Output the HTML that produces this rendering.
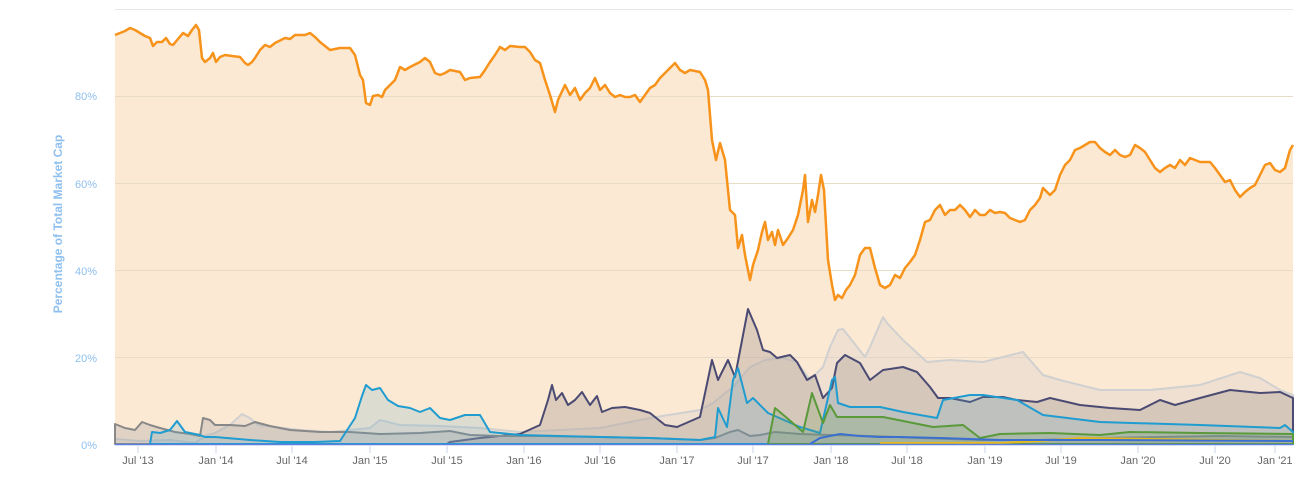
<!DOCTYPE html>
<html><head><meta charset="utf-8"><style>
body{margin:0;background:#fff;}
svg{display:block;font-family:"Liberation Sans",sans-serif;}
</style></head><body>
<svg width="1297" height="479" viewBox="0 0 1297 479">
<g stroke="#e6e6e6" stroke-width="1">
<line x1="115" y1="9.5" x2="1293" y2="9.5"/>
</g>
<!-- BTC area -->
<path fill="#fce9d4" stroke="none" d="M115,444 L115,35 L125,31 L130,28 L135,30 L140,33 L145,36 L150,38 L153,46 L157,42 L162,42 L166,38 L170,44 L173,45 L178,39 L183,33 L188,36 L192,30 L196,25 L199,30 L202,58 L205,62 L210,58 L213,53 L216,62 L220,57 L225,55 L232,56 L240,57 L245,63 L248,65 L252,62 L255,58 L260,50 L265,45 L270,47 L275,43 L285,38 L290,39 L295,35 L305,35 L310,33 L315,37 L320,42 L330,50 L340,48 L350,48 L355,55 L360,75 L363,80 L366,103 L370,105 L373,96 L378,95 L382,97 L385,90 L390,85 L395,80 L400,67 L405,70 L410,67 L420,62 L425,58 L430,62 L435,73 L440,75 L445,73 L450,70 L460,72 L465,80 L470,78 L480,77 L485,70 L490,62 L495,55 L500,47 L505,50 L510,46 L520,47 L525,47 L530,52 L535,60 L540,63 L545,80 L550,95 L555,112 L558,100 L565,85 L570,95 L575,88 L580,100 L585,93 L590,88 L595,78 L600,90 L605,85 L610,93 L615,97 L620,95 L625,97 L630,97 L635,95 L640,102 L645,95 L650,88 L655,85 L660,78 L665,73 L670,68 L675,63 L680,70 L685,73 L690,70 L700,72 L705,80 L708,90 L712,140 L716,160 L720,143 L725,160 L730,210 L735,215 L738,248 L742,235 L745,255 L750,280 L753,265 L758,250 L762,232 L765,222 L768,240 L772,232 L775,245 L778,230 L783,245 L788,238 L793,230 L798,215 L803,190 L805,175 L808,222 L812,200 L815,212 L818,195 L821,175 L824,190 L828,260 L832,285 L835,300 L838,295 L842,298 L846,290 L850,285 L855,275 L860,255 L865,248 L870,248 L875,268 L880,285 L885,288 L890,285 L895,275 L900,278 L905,268 L910,262 L915,255 L920,240 L925,222 L930,220 L935,210 L940,205 L945,215 L950,210 L955,210 L960,205 L965,210 L970,217 L975,210 L980,215 L985,215 L990,210 L995,213 L1000,212 L1005,213 L1010,218 L1015,220 L1020,222 L1025,220 L1030,210 L1035,205 L1040,198 L1043,188 L1047,192 L1050,195 L1055,190 L1060,175 L1065,165 L1070,160 L1075,150 L1080,148 L1085,145 L1090,142 L1095,142 L1100,148 L1105,152 L1110,155 L1115,150 L1120,155 L1125,157 L1130,155 L1135,145 L1140,148 L1145,152 L1150,160 L1155,168 L1160,172 L1165,168 L1170,165 L1175,168 L1180,160 L1185,165 L1190,158 L1195,160 L1200,162 L1210,162 L1215,168 L1220,175 L1225,182 L1230,180 L1235,190 L1240,197 L1245,192 L1250,188 L1255,185 L1260,175 L1265,165 L1270,163 L1275,170 L1280,172 L1285,168 L1290,150 L1293,145 L1293,444 Z"/>
<g stroke="#e8dcc8" stroke-width="1">
<line x1="115" y1="96.5" x2="1293" y2="96.5"/>
<line x1="115" y1="183.5" x2="1293" y2="183.5"/>
<line x1="115" y1="270.5" x2="1293" y2="270.5"/>
<line x1="115" y1="357.5" x2="1293" y2="357.5"/>
</g>
<path fill="none" stroke="#f7931a" stroke-width="2.5" stroke-linejoin="round" d="M115,35 L125,31 L130,28 L135,30 L140,33 L145,36 L150,38 L153,46 L157,42 L162,42 L166,38 L170,44 L173,45 L178,39 L183,33 L188,36 L192,30 L196,25 L199,30 L202,58 L205,62 L210,58 L213,53 L216,62 L220,57 L225,55 L232,56 L240,57 L245,63 L248,65 L252,62 L255,58 L260,50 L265,45 L270,47 L275,43 L285,38 L290,39 L295,35 L305,35 L310,33 L315,37 L320,42 L330,50 L340,48 L350,48 L355,55 L360,75 L363,80 L366,103 L370,105 L373,96 L378,95 L382,97 L385,90 L390,85 L395,80 L400,67 L405,70 L410,67 L420,62 L425,58 L430,62 L435,73 L440,75 L445,73 L450,70 L460,72 L465,80 L470,78 L480,77 L485,70 L490,62 L495,55 L500,47 L505,50 L510,46 L520,47 L525,47 L530,52 L535,60 L540,63 L545,80 L550,95 L555,112 L558,100 L565,85 L570,95 L575,88 L580,100 L585,93 L590,88 L595,78 L600,90 L605,85 L610,93 L615,97 L620,95 L625,97 L630,97 L635,95 L640,102 L645,95 L650,88 L655,85 L660,78 L665,73 L670,68 L675,63 L680,70 L685,73 L690,70 L700,72 L705,80 L708,90 L712,140 L716,160 L720,143 L725,160 L730,210 L735,215 L738,248 L742,235 L745,255 L750,280 L753,265 L758,250 L762,232 L765,222 L768,240 L772,232 L775,245 L778,230 L783,245 L788,238 L793,230 L798,215 L803,190 L805,175 L808,222 L812,200 L815,212 L818,195 L821,175 L824,190 L828,260 L832,285 L835,300 L838,295 L842,298 L846,290 L850,285 L855,275 L860,255 L865,248 L870,248 L875,268 L880,285 L885,288 L890,285 L895,275 L900,278 L905,268 L910,262 L915,255 L920,240 L925,222 L930,220 L935,210 L940,205 L945,215 L950,210 L955,210 L960,205 L965,210 L970,217 L975,210 L980,215 L985,215 L990,210 L995,213 L1000,212 L1005,213 L1010,218 L1015,220 L1020,222 L1025,220 L1030,210 L1035,205 L1040,198 L1043,188 L1047,192 L1050,195 L1055,190 L1060,175 L1065,165 L1070,160 L1075,150 L1080,148 L1085,145 L1090,142 L1095,142 L1100,148 L1105,152 L1110,155 L1115,150 L1120,155 L1125,157 L1130,155 L1135,145 L1140,148 L1145,152 L1150,160 L1155,168 L1160,172 L1165,168 L1170,165 L1175,168 L1180,160 L1185,165 L1190,158 L1195,160 L1200,162 L1210,162 L1215,168 L1220,175 L1225,182 L1230,180 L1235,190 L1240,197 L1245,192 L1250,188 L1255,185 L1260,175 L1265,165 L1270,163 L1275,170 L1280,172 L1285,168 L1290,150 L1293,145"/>
<!-- XRP light gray -->
<path fill="#c8c8c8" fill-opacity="0.25" stroke="#d0d0d0" stroke-width="2" stroke-linejoin="round" d="M115,444 L115,439 L140,441 L170,440 L195,443 L205,436 L215,433 L230,425 L242,414 L250,418 L258,425 L275,427 L300,430 L330,432 L350,430 L370,428 L380,420 L400,425 L440,426 L480,428 L520,432 L560,430 L600,428 L650,418 L700,410 L713,403 L733,387 L750,367 L765,360 L783,358 L797,362 L810,380 L823,367 L830,347 L838,330 L843,329 L865,357 L870,347 L883,317 L887,323 L903,340 L927,362 L950,360 L983,362 L1023,352 L1043,375 L1060,380 L1080,385 L1100,390 L1150,390 L1200,385 L1240,372 L1260,378 L1280,390 L1293,395 L1293,444 Z"/>
<!-- ETH navy -->
<path fill="#b8a8a0" fill-opacity="0.45" stroke="#4a4a72" stroke-width="2" stroke-linejoin="round" d="M447,444 L450,442 L480,438 L520,434 L540,425 L548,400 L552,385 L556,400 L562,393 L568,405 L575,400 L582,392 L590,405 L597,396 L602,412 L612,408 L625,407 L640,410 L650,413 L665,425 L677,427 L700,417 L712,360 L718,380 L728,360 L735,377 L748,309 L757,330 L763,350 L770,352 L777,358 L790,355 L797,362 L807,380 L815,375 L823,398 L832,388 L837,363 L845,355 L860,363 L870,380 L883,370 L903,367 L917,372 L930,387 L938,398 L950,398 L970,402 L983,397 L1003,397 L1017,400 L1037,402 L1050,398 L1080,405 L1110,408 L1140,410 L1160,400 L1175,405 L1200,398 L1230,390 L1260,393 L1280,392 L1293,398 L1293,444 Z"/>
<!-- LTC gray -->
<path fill="#a0a0a0" fill-opacity="0.3" stroke="#888" stroke-width="2" stroke-linejoin="round" d="M115,444 L115,424 L125,428 L135,430 L142,422 L150,425 L160,428 L175,432 L190,434 L200,436 L203,418 L210,420 L215,425 L230,425 L245,426 L255,422 L270,426 L290,430 L320,432 L350,432 L380,434 L420,433 L450,431 L470,435 L500,436 L540,436 L600,437 L650,438 L700,440 L715,438 L730,432 L738,430 L750,436 L760,435 L775,432 L800,434 L830,435 L870,436 L920,438 L980,440 L1040,440 L1100,438 L1160,437 L1220,436 L1293,437 L1293,444 Z"/>
<!-- Cyan -->
<path fill="#5fa8c8" fill-opacity="0.2" stroke="#1f9cd0" stroke-width="2" stroke-linejoin="round" d="M150,444 L152,432 L160,433 L170,430 L177,421 L185,432 L200,435 L205,437 L215,437 L250,440 L280,442 L315,442 L340,441 L355,418 L362,396 L366,385 L372,390 L380,388 L388,400 L398,406 L410,408 L420,412 L430,408 L440,418 L450,420 L465,415 L480,415 L490,432 L520,435 L560,436 L600,437 L650,438 L700,440 L715,437 L718,408 L727,427 L733,380 L738,368 L747,403 L753,398 L768,413 L800,427 L820,433 L832,380 L835,377 L838,403 L850,407 L880,407 L903,412 L937,418 L943,400 L970,395 L983,395 L1017,400 L1043,415 L1100,422 L1200,425 L1280,428 L1285,425 L1293,432 L1293,444 Z"/>
<!-- Green -->
<path fill="#6a9a50" fill-opacity="0.2" stroke="#5a9a3a" stroke-width="2" stroke-linejoin="round" d="M768,444 L775,408 L787,418 L803,432 L812,393 L823,423 L830,405 L837,417 L883,417 L933,427 L963,425 L980,438 L1000,434 L1050,433 L1100,435 L1130,432 L1200,433 L1293,434 L1293,444 Z"/>
<!-- yellow and blue small -->
<path fill="none" stroke="#e6b820" stroke-width="2" d="M880,443 L1000,443 L1040,441 L1080,438 L1150,439 L1220,440 L1293,441"/>
<path fill="none" stroke="#3b6fd0" stroke-width="2" d="M810,444 L820,438 L840,434 L860,436 L880,437 L900,437 L940,438 L1000,440 L1100,440 L1293,441"/>
<line x1="115" y1="444.5" x2="1293" y2="444.5" stroke="#5b7fdc" stroke-width="1.5"/>
<g stroke="#ccd6eb" stroke-width="1">
<line x1="138" y1="445" x2="138" y2="453"/><line x1="216" y1="445" x2="216" y2="453"/><line x1="292" y1="445" x2="292" y2="453"/><line x1="370" y1="445" x2="370" y2="453"/><line x1="447" y1="445" x2="447" y2="453"/><line x1="524" y1="445" x2="524" y2="453"/><line x1="600" y1="445" x2="600" y2="453"/><line x1="677" y1="445" x2="677" y2="453"/><line x1="753" y1="445" x2="753" y2="453"/><line x1="831" y1="445" x2="831" y2="453"/><line x1="907" y1="445" x2="907" y2="453"/><line x1="985" y1="445" x2="985" y2="453"/><line x1="1061" y1="445" x2="1061" y2="453"/><line x1="1138" y1="445" x2="1138" y2="453"/><line x1="1215" y1="445" x2="1215" y2="453"/><line x1="1275" y1="445" x2="1275" y2="453"/>
</g>
<g font-size="11" fill="#666" text-anchor="middle">
<text x="138" y="464">Jul '13</text><text x="216" y="464">Jan '14</text><text x="292" y="464">Jul '14</text><text x="370" y="464">Jan '15</text><text x="447" y="464">Jul '15</text><text x="524" y="464">Jan '16</text><text x="600" y="464">Jul '16</text><text x="677" y="464">Jan '17</text><text x="753" y="464">Jul '17</text><text x="831" y="464">Jan '18</text><text x="907" y="464">Jul '18</text><text x="985" y="464">Jan '19</text><text x="1061" y="464">Jul '19</text><text x="1138" y="464">Jan '20</text><text x="1215" y="464">Jul '20</text><text x="1275" y="464">Jan '21</text>
</g>
<g font-size="11" fill="#8fc0ef" text-anchor="end">
<text x="97" y="100">80%</text><text x="97" y="188">60%</text><text x="97" y="275">40%</text><text x="97" y="362">20%</text><text x="97" y="449">0%</text>
</g>
<text transform="translate(62,224) rotate(-90)" font-size="12" font-weight="bold" fill="#8fc0ef" text-anchor="middle">Percentage of Total Market Cap</text>
</svg>
</body></html>
